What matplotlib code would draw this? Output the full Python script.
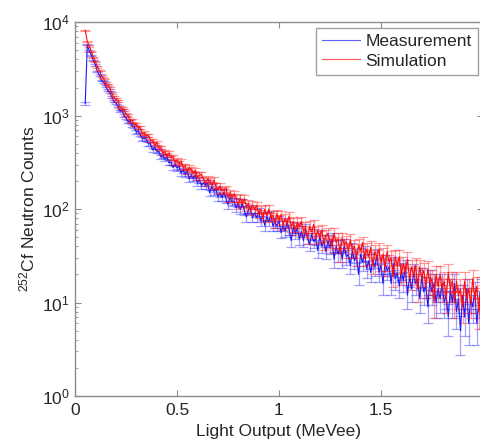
import numpy as np
import matplotlib.pyplot as plt

plt.rcParams['font.family'] = ['Liberation Sans', 'DejaVu Sans']
plt.rcParams['mathtext.default'] = 'regular'

# Bin centres (MeVee), 0.01 MeVee wide bins
light_output = np.round(np.arange(0.05, 2.0001, 0.01), 2)

measurement = [
    1350, 5720, 4920, 4440, 3890, 3480, 2975, 2705, 2376, 2292,
    2078, 1874, 1790, 1588, 1432, 1376, 1267, 1126, 1143, 1004,
    951, 863, 872, 779, 759, 668, 686, 627, 566, 577,
    563, 499, 499, 430, 461, 416, 415, 364, 374, 346,
    364, 314, 318, 279, 304, 275, 288, 244, 261, 238,
    254, 210, 229, 213, 232, 192, 206, 179, 191, 179,
    191, 149, 174, 155, 166, 135, 148, 133, 152, 129,
    112, 134, 120, 122, 103, 116, 99, 116, 97, 82,
    99, 101, 81, 91, 81, 94, 75, 85, 67, 83,
    74, 87, 66, 72, 66, 75, 56, 67, 58, 72,
    60, 46, 64, 55, 63, 48, 58, 46, 61, 49,
    42, 54, 45, 48, 36, 52, 40, 46, 35, 46,
    39, 48, 29, 40, 33, 40, 29, 41, 31, 33,
    25, 37, 28, 32, 20, 33, 27, 34, 23, 28,
    21, 29, 24, 32, 21, 25, 16, 27, 22, 24,
    16, 26, 18, 21, 15, 22, 17, 24, 12, 19,
    14, 21, 16, 18, 11, 19, 13, 15, 9, 18,
    13, 16, 10, 14, 11, 16, 10, 12, 7, 14,
    10, 16, 8, 11, 5, 12, 7, 14, 6, 11,
    9, 13, 6, 10, 14, 8,
]

simulation = [
    8200, 6230, 5560, 4854, 4212, 3795, 3316, 3041, 2659, 2495,
    2218, 2117, 1962, 1743, 1581, 1497, 1442, 1237, 1199, 1145,
    1035, 1010, 888, 884, 803, 806, 740, 744, 639, 654,
    613, 609, 540, 542, 483, 514, 452, 457, 399, 412,
    377, 398, 355, 363, 318, 331, 308, 325, 278, 286,
    253, 279, 266, 242, 260, 219, 232, 235, 208, 190,
    211, 201, 180, 204, 176, 160, 177, 157, 160, 166,
    132, 149, 132, 145, 130, 110, 132, 116, 129, 106,
    114, 96, 111, 100, 110, 89, 99, 81, 100, 85,
    100, 81, 86, 71, 89, 77, 87, 68, 79, 71,
    84, 65, 73, 60, 72, 65, 74, 58, 64, 49,
    66, 57, 69, 49, 59, 51, 60, 43, 52, 55,
    45, 40, 55, 44, 48, 33, 49, 42, 45, 36,
    47, 36, 40, 30, 41, 36, 44, 30, 37, 31,
    39, 25, 35, 31, 37, 27, 33, 24, 35, 27,
    30, 19, 31, 25, 31, 20, 26, 21, 29, 18,
    24, 20, 25, 14, 24, 19, 22, 15, 23, 16,
    18, 10, 20, 15, 20, 14, 17, 11, 21, 14,
    17, 10, 17, 12, 14, 9, 17, 11, 14, 10,
    18, 11, 15, 8, 15, 12,
]


def draw_series(ax, x, counts, color, label):
    counts = np.array(counts, dtype=float)
    err = np.sqrt(counts)
    ax.errorbar(x, counts, yerr=err, fmt='none', ecolor=color, elinewidth=0.9,
                capsize=3.6, capthick=0.9, alpha=0.4)
    line, = ax.plot(x, counts, color=color, lw=0.8, label=label)
    return line


def main():
    fig = plt.figure(figsize=(4.81, 4.44), dpi=100)
    ax = fig.add_axes([0.156, 0.108, 0.848, 0.842])

    h1 = draw_series(ax, light_output, measurement, (0.1, 0.1, 1), 'Measurement')
    h2 = draw_series(ax, light_output, simulation, (1, 0.05, 0.05), 'Simulation')

    ax.set_yscale('log')
    ax.set_ylim(1, 1e4)
    ax.set_xlim(0, 2)
    ax.set_xticks([0, 0.5, 1, 1.5, 2])
    ax.set_xticklabels(['0', '0.5', '1', '1.5', '2'])

    fs = 12.5
    spine_col = '#8c8c8c'
    txt_col = '#262626'
    for s in ax.spines.values():
        s.set_color(spine_col)
        s.set_linewidth(1.0)
    ax.tick_params(which='both', direction='in', top=True, right=True,
                   color=spine_col, labelsize=fs, labelcolor=txt_col)
    ax.tick_params(which='major', length=4)
    ax.tick_params(which='minor', length=2)
    ax.tick_params(axis='x', pad=5)
    ax.tick_params(axis='y', pad=4)

    ax.set_xlabel('Light Output (MeVee)', fontsize=fs, color=txt_col, labelpad=4)
    ax.set_ylabel('$^{252}$Cf Neutron Counts', fontsize=fs, color=txt_col, labelpad=3)

    leg = ax.legend(handles=[h1, h2], loc='upper right', bbox_to_anchor=(0.987, 0.985),
                    fontsize=fs, frameon=True, fancybox=False, borderpad=0.35,
                    handlelength=2.2, handletextpad=0.3, labelspacing=0.25,
                    borderaxespad=0)
    leg.get_frame().set_edgecolor(spine_col)
    leg.get_frame().set_linewidth(1.0)
    for t in leg.get_texts():
        t.set_color(txt_col)
    for ln in leg.get_lines():
        ln.set_alpha(0.7)

    fig.savefig('out.png', dpi=100)


if __name__ == '__main__':
    main()
